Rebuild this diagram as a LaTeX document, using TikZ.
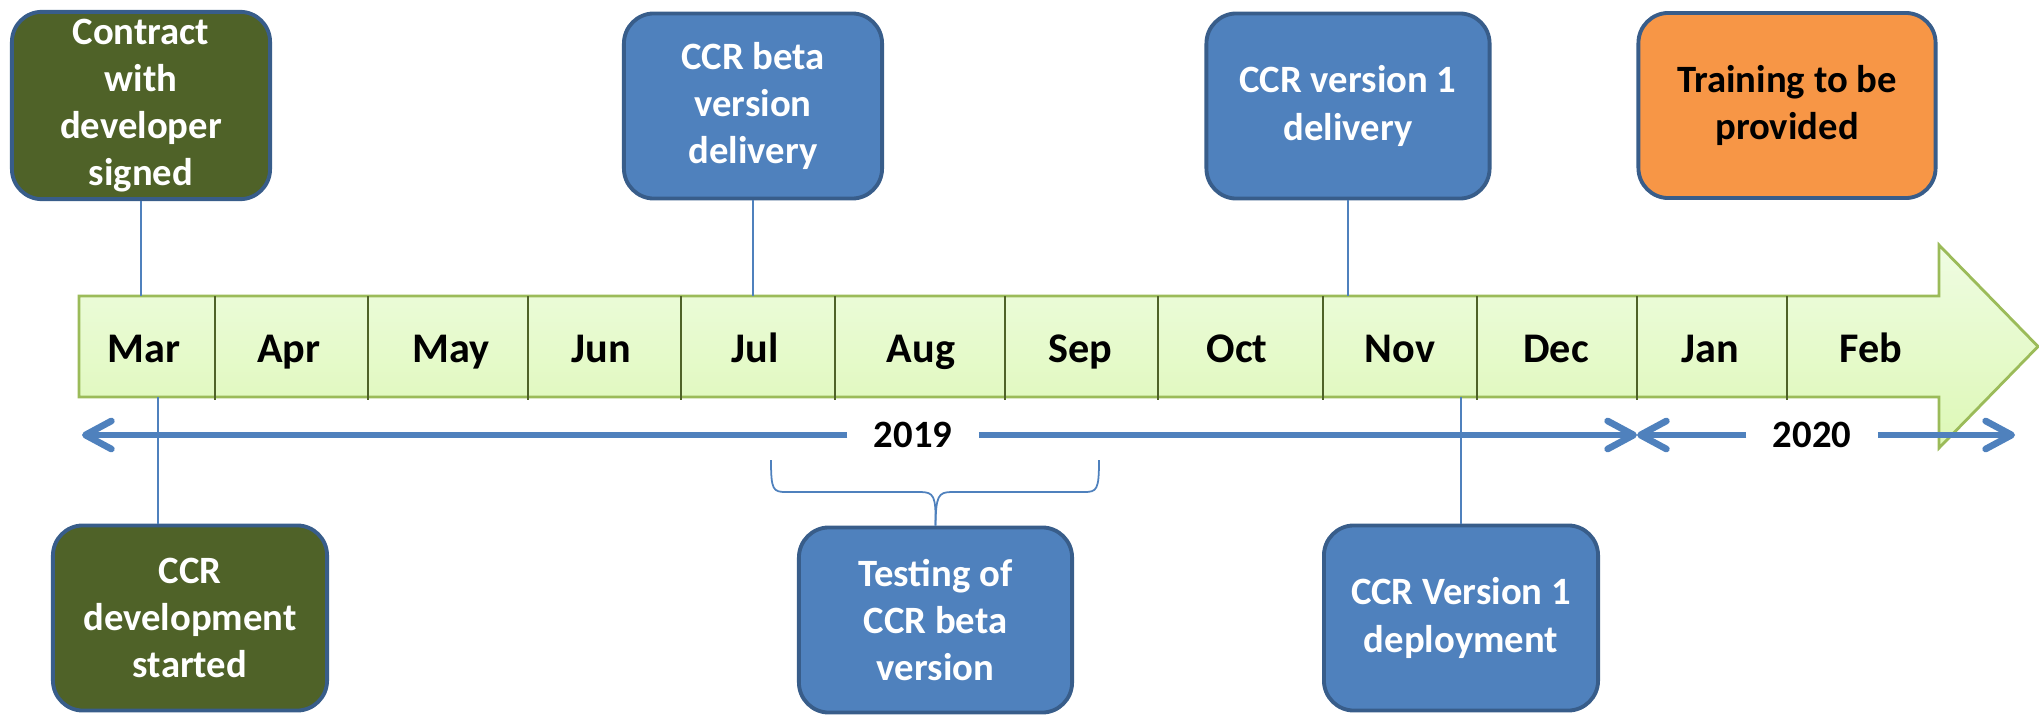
\documentclass[tikz,border=0pt]{standalone}
\usepackage{fontspec}
\setmainfont{Carlito}
\usetikzlibrary{arrows.meta}
\definecolor{olivebox}{HTML}{4F6228}
\definecolor{bluebox}{HTML}{4F81BD}
\definecolor{orangebox}{HTML}{F79646}
\definecolor{boxline}{HTML}{385D8A}
\definecolor{barline}{HTML}{9BBB59}
\definecolor{bartop}{HTML}{EFFCE2}
\definecolor{barbottom}{HTML}{DDF8B6}

\begin{document}
\begin{tikzpicture}[x=0.01cm, y=-0.01cm,
    every node/.style={font=\fontsize{11}{13.4}\selectfont\bfseries},
    event/.style={draw=boxline, line width=1.1pt, rounded corners=0.3cm, align=center, text=white, minimum height=1.85cm, inner sep=2pt},
    month/.style={font=\fontsize{12}{14}\selectfont\bfseries, anchor=base},
    link/.style={draw=bluebox, line width=0.5pt},
    yeararrow/.style={draw=bluebox, line width=1.9pt, -{Straight Barb[length=2.6mm,width=2.8mm,round]}},
    yearlabel/.style={minimum width=1.3cm, inner sep=0pt}]
      \useasboundingbox (0,0) rectangle (2039,715);
      % timeline arrow
      \shadedraw[top color=bartop, bottom color=barbottom, draw=barline, line width=0.8pt]
        (79,296) -- (1939,296) -- (1939,245) -- (2038,346.5) -- (1939,448) -- (1939,397) -- (79,397) -- cycle;
      \foreach \x in {215,368,528,681,835,1005,1158,1323,1477,1637,1787}
        \draw[olivebox, line width=0.6pt] (\x,296) -- (\x,400);
      % months
      \foreach \m/\x in {Mar/144,Apr/289,May/451,Jun/601,Jul/755,Aug/921,Sep/1080,Oct/1237,Nov/1400,Dec/1556,Jan/1710,Feb/1871}
        \node[month] (\m) at (\x,362) {\m};
      \coordinate (bartopline) at (0,296);
      \coordinate (barbotline) at (0,397);
      % years
      \node[yearlabel] (y2019) at (913,435) {2019};
      \node[yearlabel] (y2020) at (1812,435) {2020};
      \coordinate (startline) at (82,435);
      \coordinate (newyear) at (1637,435);
      \coordinate (endline) at (2015,435);
      \draw[yeararrow] (y2019.west) -- (startline);
      \draw[yeararrow] (y2019.east) -- (newyear);
      \draw[yeararrow] (y2020.west) -- (newyear);
      \draw[yeararrow] (y2020.east) -- (endline);
      % events above the timeline
      \node[event, fill=olivebox, minimum width=2.58cm] (contract) at (141,105.5) {Contract\\with\\developer\\signed};
      \node[event, fill=bluebox, minimum width=2.58cm] (beta) at (753,106) {CCR beta\\version\\delivery};
      \node[event, fill=bluebox, minimum width=2.83cm] (v1) at (1348,106) {CCR version 1\\delivery};
      \node[event, fill=orangebox, text=black, minimum width=2.97cm] (training) at (1787,105.5) {Training to be\\provided};
      % events below the timeline
      \node[event, fill=olivebox, minimum width=2.74cm] (dev) at (190,618) {CCR\\development\\started};
      \node[event, fill=bluebox, minimum width=2.73cm] (test) at (935.5,620) {Testing of\\CCR beta\\version};
      \node[event, fill=bluebox, minimum width=2.74cm] (deploy) at (1461,618) {CCR Version 1\\deployment};
      % connectors
      \draw[link] (contract.south) -- (contract.south |- bartopline);
      \draw[link] (beta.south) -- (beta.south |- bartopline);
      \draw[link] (v1.south) -- (v1.south |- bartopline);
      \coordinate (devtick) at (158,397);
      \draw[link] (devtick) -- (devtick |- dev.north);
      \draw[link] (deploy.north) -- (deploy.north |- barbotline);
      % brace over the testing months
      \draw[link] (771,460) .. controls (771,490) and (773,492) .. (786,492) -- (920,492) .. controls (934,492) and (936,496) .. (test.north);
      \draw[link] (1099,460) .. controls (1099,490) and (1097,492) .. (1084,492) -- (952,492) .. controls (938,492) and (936,496) .. (test.north);
\end{tikzpicture}
\end{document}
